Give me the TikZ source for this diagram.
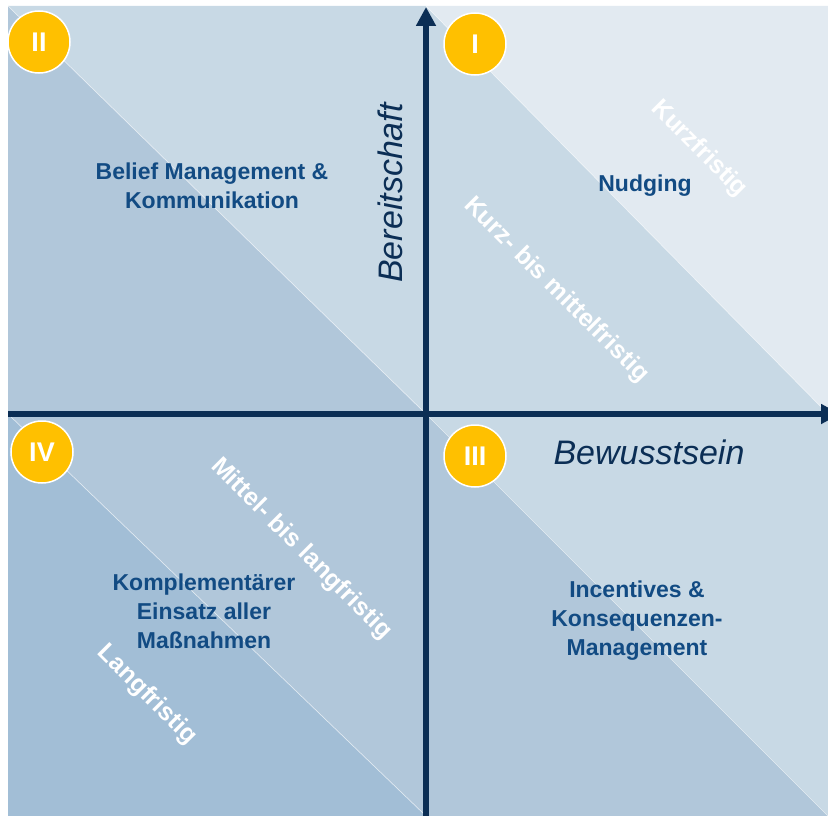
\documentclass[tikz,border=0pt]{standalone}
\usepackage{fontspec}
\setmainfont{Liberation Sans}
\usetikzlibrary{arrows.meta}

\definecolor{bandA}{HTML}{E2EAF1}
\definecolor{bandB}{HTML}{C8D9E5}
\definecolor{bandC}{HTML}{B1C7DA}
\definecolor{bandD}{HTML}{A2BED6}
\definecolor{navy}{HTML}{0B2E55}
\definecolor{fieldblue}{HTML}{124B83}
\definecolor{gold}{HTML}{FFC000}

\begin{document}
\begin{tikzpicture}[x=1pt,y=-1pt,
  badge/.style={circle,fill=gold,draw=white,line width=1.5pt,minimum size=62pt,inner sep=0pt,
    text=white,font=\fontsize{27}{27}\selectfont\bfseries},
  field/.style={align=center,text=fieldblue,font=\fontsize{23}{29}\selectfont\bfseries},
  horizon/.style={rotate=-45,text=white,font=\fontsize{25}{25}\selectfont\bfseries},
  axislabel/.style={text=navy,font=\fontsize{34}{34}\selectfont\itshape},
  axis/.style={navy,line width=5.5pt,-{Triangle[length=19pt,width=19pt]}},
  seam/.style={white,opacity=0.6,line width=0.7pt}]
  \useasboundingbox (0,0) rectangle (828,816);
  % \draw[thin,gray!40,step=50] (0,0) grid (828,816);
  % quadrant II
  \fill[bandB] (8,6) -- (426,6) -- (426,414) -- cycle;
  \fill[bandC] (8,6) -- (426,414) -- (8,414) -- cycle;
  % quadrant I
  \fill[bandA] (426,6) -- (828,6) -- (828,414) -- cycle;
  \fill[bandB] (426,6) -- (828,414) -- (426,414) -- cycle;
  % quadrant IV
  \fill[bandC] (8,414) -- (426,414) -- (426,816) -- cycle;
  \fill[bandD] (8,414) -- (426,816) -- (8,816) -- cycle;
  % quadrant III
  \fill[bandB] (426,414) -- (828,414) -- (828,816) -- cycle;
  \fill[bandC] (426,414) -- (828,816) -- (426,816) -- cycle;
  % diagonals
  \draw[seam] (8,6) -- (426,414);
  \draw[seam] (426,6) -- (828,414);
  \draw[seam] (8,414) -- (426,816);
  \draw[seam] (426,414) -- (828,816);

  % time horizons
  \node[horizon] (kurz) at (699,149) {Kurzfristig};
  \node[horizon] (kurzmittel) at (556,290) {Kurz- bis mittelfristig};
  \node[horizon] (mittellang) at (301,549) {Mittel- bis langfristig};
  \node[horizon] (lang) at (147,695) {Langfristig};

  % axes
  \coordinate (ybottom) at (426,816);
  \coordinate (ytop) at (426,7);
  \coordinate (xleft) at (8,414);
  \coordinate (xright) at (840,414);
  \draw[axis] (ybottom) -- (ytop);
  \draw[axis] (xleft) -- (xright);
  \node[axislabel,rotate=90] (bereit) at (390,193) {Bereitschaft};
  \node[axislabel] (bewusst) at (649,452) {Bewusstsein};

  % fields
  \node[field] (belief) at (212,186) {Belief Management \&\\Kommunikation};
  \node[field] (nudging) at (645,186) {Nudging};
  \node[field] (incent) at (637,621) {Incentives \&\\Konsequenzen-\\Management};
  \node[field] (kompl) at (204,611) {Komplementärer\\Einsatz aller\\Maßnahmen};

  % badges
  \node[badge] (qII) at (39,42) {II};
  \node[badge] (qI) at (475,44) {I};
  \node[badge] (qIII) at (475,456) {III};
  \node[badge] (qIV) at (42,452) {IV};
\end{tikzpicture}
\end{document}
